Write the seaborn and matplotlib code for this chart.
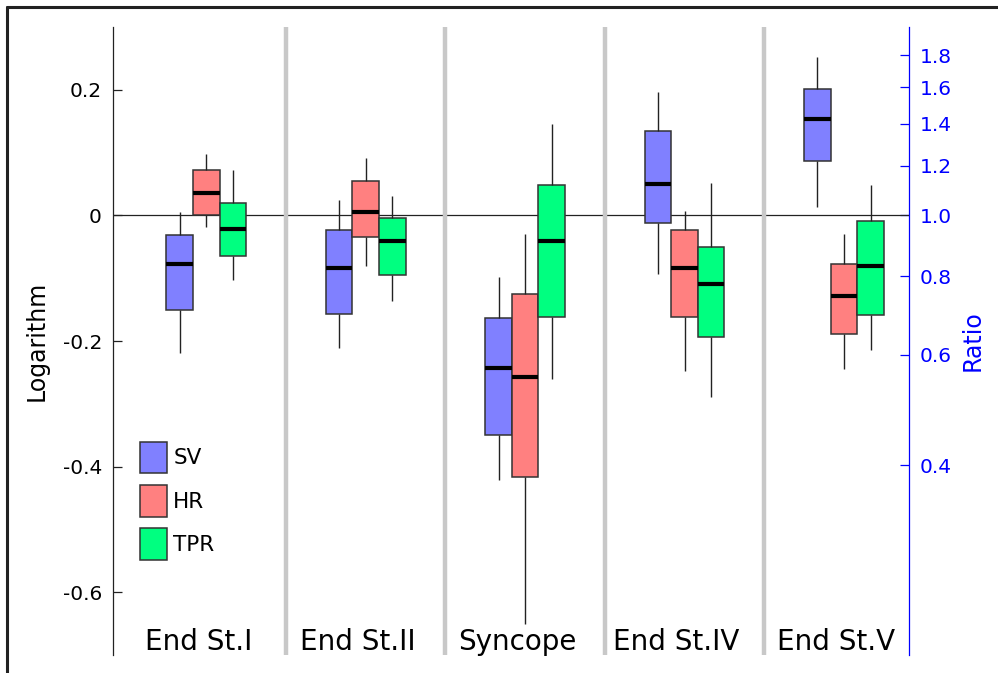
import numpy as np
import pandas as pd
import seaborn as sns
import matplotlib.pyplot as plt
import matplotlib.patches as mpatches
from matplotlib.lines import Line2D
from matplotlib.ticker import FormatStrFormatter, NullLocator

stages = ['End St.I', 'End St.II', 'Syncope', 'End St.IV', 'End St.V']
series = ['SV', 'HR', 'TPR']
colors = ['#8080FF', '#FF8080', '#00FF80']

# five-number summaries (log10 of ratio): whisker low, Q1, median, Q3, whisker high
sv_low = [-0.219, -0.211, -0.421, -0.094, 0.013]
sv_q1 = [-0.151, -0.157, -0.350, -0.012, 0.087]
sv_med = [-0.078, -0.083, -0.243, 0.050, 0.153]
sv_q3 = [-0.031, -0.023, -0.164, 0.134, 0.202]
sv_high = [0.005, 0.025, -0.098, 0.197, 0.252]

hr_low = [-0.019, -0.080, -0.651, -0.248, -0.244]
hr_q1 = [0.000, -0.034, -0.416, -0.162, -0.189]
hr_med = [0.035, 0.005, -0.257, -0.083, -0.128]
hr_q3 = [0.072, 0.055, -0.125, -0.023, -0.077]
hr_high = [0.098, 0.091, -0.030, 0.007, -0.030]

tpr_low = [-0.103, -0.137, -0.261, -0.289, -0.215]
tpr_q1 = [-0.065, -0.095, -0.161, -0.194, -0.158]
tpr_med = [-0.022, -0.040, -0.041, -0.110, -0.081]
tpr_q3 = [0.019, -0.004, 0.048, -0.050, -0.009]
tpr_high = [0.073, 0.031, 0.146, 0.051, 0.048]

ytick_vals = [-0.6, -0.4, -0.2, 0.0, 0.2]
ytick_labels = ['-0.6', '-0.4', '-0.2', '0', '0.2']
ratio_ticks = [0.4, 0.6, 0.8, 1.0, 1.2, 1.4, 1.6, 1.8]

summaries = {
    'SV': [sv_low, sv_q1, sv_med, sv_q3, sv_high],
    'HR': [hr_low, hr_q1, hr_med, hr_q3, hr_high],
    'TPR': [tpr_low, tpr_q1, tpr_med, tpr_q3, tpr_high],
}

# long table: 5 points per box so the quartiles land exactly on the summary values
rows = []
for s in series:
    for i, st in enumerate(stages):
        for part in summaries[s]:
            rows.append({'stage': st, 'series': s, 'value': part[i]})
df = pd.DataFrame(rows)

sns.set_theme(style='white', rc={'text.color': 'black', 'axes.labelcolor': 'black',
                                 'xtick.color': 'black', 'ytick.color': 'black'})
plt.rcParams['font.family'] = ['DejaVu Sans']

fig = plt.figure(figsize=(9.98, 6.73), dpi=100)
ax = fig.add_axes([113 / 998, 18 / 673, 796 / 998, 628 / 673])

sns.boxplot(data=df, x='stage', y='value', hue='series', order=stages,
            hue_order=series, palette=colors, saturation=1, width=0.5, gap=0,
            whis=(0, 100), showcaps=False, linecolor='#333333', linewidth=1.1,
            medianprops=dict(color='black', linewidth=3),
            whiskerprops=dict(color='#222222', linewidth=1.0),
            legend=False, ax=ax)

ax.axhline(0, color='#222222', linewidth=0.9, zorder=0.5)
for xs in [0.5, 1.5, 2.5, 3.5]:
    ax.axvline(xs, color='#c8c8c8', linewidth=3.2, zorder=0.8)

ax.set_xlim(-0.585, 4.408)
ax.set_ylim(-0.7, 0.3)
ax.set_xticks([])
ax.set_xlabel('')
ax.set_yticks(ytick_vals)
ax.set_yticklabels(ytick_labels)
ax.tick_params(axis='y', direction='in', length=6.5, width=0.9, color='#222222',
               labelsize=14.5, pad=8, left=True)
ax.set_ylabel('Logarithm', fontsize=17, labelpad=10)

for sp in ['top', 'bottom', 'right']:
    ax.spines[sp].set_visible(False)
ax.spines['left'].set_color('#222222')
ax.spines['left'].set_linewidth(0.9)

for i, st in enumerate(stages):
    ax.text(i - 0.05, 0.008, st, transform=ax.get_xaxis_transform(),
            ha='center', va='baseline', fontsize=20)

secax = ax.secondary_yaxis('right', functions=(lambda x: 10 ** x, np.log10))
secax.set_yticks(ratio_ticks)
secax.yaxis.set_major_formatter(FormatStrFormatter('%.1f'))
secax.yaxis.set_minor_locator(NullLocator())
secax.tick_params(direction='in', length=6.5, width=0.9, colors='blue',
                  labelsize=14.5, pad=8)
secax.spines['right'].set_color('blue')
secax.spines['right'].set_linewidth(0.9)
secax.set_ylabel('Ratio', fontsize=17, color='blue', labelpad=6)

handles = [mpatches.Patch(facecolor=c, edgecolor='#333333', linewidth=1.1, label=s)
           for s, c in zip(series, colors)]
ax.legend(handles=handles, loc='upper left', bbox_to_anchor=(0.0339, 0.3396),
          frameon=False, borderpad=0, borderaxespad=0, fontsize=15.5,
          handlelength=1.24, handleheight=1.89, labelspacing=0.53,
          handletextpad=0.3)

# outer frame (cut off at right and bottom)
fig.add_artist(Line2D([7 / 998, 1], [1 - 7 / 673, 1 - 7 / 673],
                      transform=fig.transFigure, color='#222222', linewidth=2.2))
fig.add_artist(Line2D([7 / 998, 7 / 998], [0, 1 - 7 / 673],
                      transform=fig.transFigure, color='#222222', linewidth=2.2))

fig.savefig('out.png', dpi=100)
